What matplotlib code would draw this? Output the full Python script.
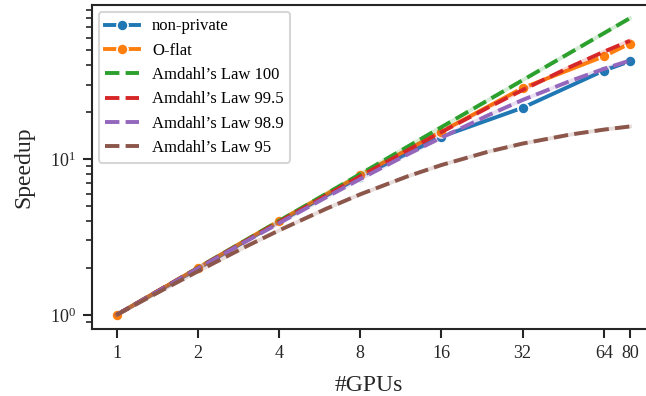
import numpy as np
import matplotlib
matplotlib.use('Agg')
import matplotlib.pyplot as plt
from matplotlib.ticker import FixedLocator, NullLocator, LogLocator

# measured speedups
gpus = [1, 2, 4, 8, 16, 32, 64, 80]
non_private = [1.0, 1.98, 3.95, 7.7, 13.9, 21.3, 36.9, 42.3]
o_flat = [1.0, 2.0, 4.0, 7.9, 15.0, 28.5, 45.5, 55.0]

# Amdahl's law curves
amd_x = [1, 1.5, 2, 3, 4, 6, 8, 12, 16, 24, 32, 48, 64, 80]
amd_100 = [1, 1.5, 2, 3, 4, 6, 8, 12, 16, 24, 32, 48, 64, 80]
amd_995 = [1, 1.50, 1.99, 2.97, 3.94, 5.85, 7.73, 11.37, 14.88, 21.5, 27.7, 38.9, 48.7, 57.3]
amd_989 = [1, 1.49, 1.98, 2.94, 3.87, 5.69, 7.43, 10.7, 13.7, 19.15, 23.9, 31.6, 37.8, 42.8]
amd_95 = [1, 1.46, 1.90, 2.73, 3.48, 4.8, 5.93, 7.74, 9.14, 11.16, 12.55, 14.33, 15.42, 16.16]

xticks = [1, 2, 4, 8, 16, 32, 64, 80]

plt.rcParams['font.family'] = ['Liberation Serif', 'DejaVu Serif']
plt.rcParams['mathtext.fontset'] = 'custom'
plt.rcParams['mathtext.rm'] = 'Liberation Serif'
plt.rcParams['mathtext.it'] = 'Liberation Serif:italic'

c = plt.rcParams['axes.prop_cycle'].by_key()['color']
dark = '#262626'

fig = plt.figure(figsize=(6.46, 3.96), dpi=100)
ax = fig.add_axes([0.1424, 0.169, 0.858, 0.818])

lw = 2.8
ax.plot(gpus, non_private, '-o', color=c[0], lw=lw, ms=8, mec='white', mew=1.2, label='non-private', zorder=3)
ax.plot(gpus, o_flat, '-o', color=c[1], lw=lw, ms=8, mec='white', mew=1.2, label='O-flat', zorder=3)

amd = [(amd_100, c[2], "Amdahl’s Law 100"),
       (amd_995, c[3], "Amdahl’s Law 99.5"),
       (amd_989, c[4], "Amdahl’s Law 98.9"),
       (amd_95, c[5], "Amdahl’s Law 95")]
for ys, col, lab in amd:
    ax.plot(amd_x, ys, '-', color=col, lw=lw, alpha=0.2, zorder=4)
    ax.plot(amd_x, ys, '--', color=col, lw=lw, label=lab, zorder=4)

ax.set_xscale('log', base=2)
ax.set_yscale('log')
ax.set_xlim(0.81, 92)
ax.set_ylim(0.81, 97)
ax.xaxis.set_major_locator(FixedLocator(xticks))
ax.xaxis.set_minor_locator(NullLocator())
ax.set_xticklabels([str(t) for t in xticks])
ax.yaxis.set_major_locator(LogLocator(base=10, numticks=10))
ax.yaxis.set_minor_locator(LogLocator(base=10, subs=np.arange(2, 10), numticks=10))

for s in ['left', 'bottom', 'top']:
    ax.spines[s].set_color(dark)
    ax.spines[s].set_linewidth(1.5)
ax.spines['right'].set_visible(False)
ax.tick_params(which='major', length=6.5, width=1.5, color=dark, labelsize=13, labelcolor=dark, pad=5)
ax.tick_params(which='minor', length=4.3, width=1.2, color=dark)

ax.set_xlabel('#GPUs', fontsize=17, color=dark, labelpad=9)
ax.set_ylabel('Speedup', fontsize=17, color=dark, labelpad=11)

leg = ax.legend(loc='upper left', fontsize=12, frameon=True, fancybox=True,
                borderaxespad=0.4, handlelength=2.05, handletextpad=0.75)
leg.get_frame().set_edgecolor('#cccccc')
leg.get_frame().set_linewidth(1.5)

fig.savefig('out.png', dpi=100)
